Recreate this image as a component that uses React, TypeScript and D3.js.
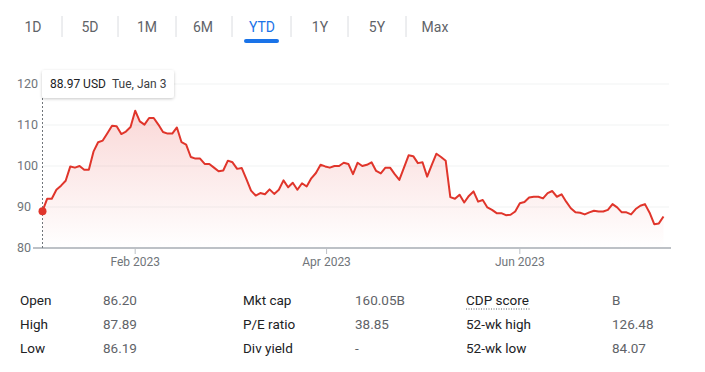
import React from "react";
import * as d3 from "d3";

const tabs = ["1D", "5D", "1M", "6M", "YTD", "1Y", "5Y", "Max"];
const selectedTab = "YTD";

const prices = [
  88.97, 92.0, 92.0, 94.2, 95.2, 96.4, 99.9, 99.6, 100.0, 99.1, 99.1, 103.5, 105.8, 106.2, 108.0,
  109.8, 109.7, 107.8, 108.4, 109.5, 113.5, 110.9, 110.1, 111.7, 111.7, 110.1, 108.3, 107.9, 107.9,
  109.4, 105.8, 105.2, 102.2, 101.8, 101.8, 100.5, 100.5, 99.6, 98.7, 98.9, 101.3, 100.9, 99.3, 99.5,
  96.8, 94.0, 92.8, 93.4, 93.1, 94.3, 93.2, 94.2, 96.5, 94.8, 95.9, 94.2, 95.8, 95.0, 97.0, 98.3,
  100.3, 99.9, 99.6, 100.0, 100.0, 100.8, 100.5, 98.0, 100.8, 100.0, 100.3, 100.9, 98.8, 98.2, 99.6,
  99.6, 98.0, 96.6, 99.6, 102.6, 102.4, 100.7, 100.9, 97.4, 100.3, 103.0, 102.2, 101.3, 92.4, 92.0,
  93.0, 91.1, 92.7, 93.8, 91.3, 91.7, 89.9, 89.3, 88.5, 88.5, 88.0, 88.1, 88.9, 90.9, 91.2, 92.3,
  92.5, 92.5, 92.1, 93.4, 93.9, 92.5, 93.1, 91.3, 89.7, 88.7, 88.6, 88.2, 88.7, 89.1, 88.9, 88.9,
  89.3, 90.7, 89.9, 88.7, 88.7, 88.2, 89.5, 90.3, 90.7, 88.6, 85.8, 86.0, 87.7,
];

const yTicks = [80, 90, 100, 110, 120];
const xTickIndex = [20, 61.3, 103];
const xTickLabels = ["Feb 2023", "Apr 2023", "Jun 2023"];

const tooltipPrice = "88.97 USD";
const tooltipDate = "Tue, Jan 3";

const statLabels = [
  ["Open", "High", "Low"],
  ["Mkt cap", "P/E ratio", "Div yield"],
  ["CDP score", "52-wk high", "52-wk low"],
];
const statValues = [
  ["86.20", "87.89", "86.19"],
  ["160.05B", "38.85", "-"],
  ["B", "126.48", "84.07"],
];

const FONT = "Roboto, Arial, sans-serif";

export default function App() {
  const W = 705;
  const H = 372;
  const x = d3.scaleLinear().domain([0, prices.length - 1]).range([42.5, 663.5]);
  const y = d3.scaleLinear().domain([80, 120]).range([248, 84]);

  const line = d3
    .line<number>()
    .x((_, i) => x(i))
    .y((d) => y(d));
  const area = d3
    .area<number>()
    .x((_, i) => x(i))
    .y0(y(80))
    .y1((d) => y(d));

  const tabX = [33, 90, 147, 203, 262, 320, 377, 435];
  const sepX = [62, 118, 176, 232, 291, 348, 406];
  const labelColX = [20, 243, 466];
  const valueColX = [103, 355, 612];
  const rowY = [305, 329, 353];

  return (
    <svg
      width={W}
      height={H}
      style={{ position: "absolute", left: 0, top: 0, background: "#fff" }}
      fontFamily={FONT}
    >
      <defs>
        <linearGradient id="fillGrad" x1="0" y1={y(114)} x2="0" y2={y(80)} gradientUnits="userSpaceOnUse">
          <stop offset="0%" stopColor="#e53935" stopOpacity={0.2} />
          <stop offset="100%" stopColor="#e53935" stopOpacity={0.0} />
        </linearGradient>
        <filter id="shadow" x="-20%" y="-40%" width="140%" height="180%">
          <feDropShadow dx="0" dy="1" stdDeviation="1.5" floodColor="#000" floodOpacity="0.22" />
        </filter>
      </defs>

      {/* tabs */}
      {tabs.map((t, i) => (
        <text
          key={t}
          x={tabX[i]}
          y={32}
          textAnchor="middle"
          fontSize={14}
          fill={t === selectedTab ? "#1a73e8" : "#5f6368"}
        >
          {t}
        </text>
      ))}
      {sepX.map((sx, i) => (
        <line key={i} x1={sx} x2={sx} y1={16} y2={37} stroke="#dadce0" strokeWidth={1} />
      ))}
      <rect x={244} y={39} width={35} height={4} rx={2} fill="#1a73e8" />

      {/* gridlines */}
      {yTicks.slice(1).map((t) => (
        <line key={t} x1={42} x2={669} y1={y(t)} y2={y(t)} stroke="#f1f3f4" strokeWidth={1.2} />
      ))}
      {yTicks.map((t) => (
        <text key={t} x={17} y={y(t)} dy="0.35em" fontSize={12.5} fill="#70757a">
          {t}
        </text>
      ))}

      {/* area + line */}
      <path d={area(prices) || ""} fill="url(#fillGrad)" />
      <path d={line(prices) || ""} fill="none" stroke="#e0352b" strokeWidth={2} strokeLinejoin="round" />

      {/* axis */}
      <line x1={33} x2={671} y1={y(80)} y2={y(80)} stroke="#bdc1c6" strokeWidth={2} />
      {xTickIndex.map((ti, i) => (
        <g key={i}>
          <line x1={x(ti)} x2={x(ti)} y1={y(80)} y2={y(80) + 6} stroke="#bdc1c6" strokeWidth={1} />
          <text x={x(ti)} y={266} textAnchor="middle" fontSize={12} fill="#70757a">
            {xTickLabels[i]}
          </text>
        </g>
      ))}

      {/* hover marker */}
      <line
        x1={x(0)}
        x2={x(0)}
        y1={98}
        y2={y(80)}
        stroke="#70757a"
        strokeWidth={1}
        strokeDasharray="2,2"
      />
      <circle cx={x(0)} cy={y(prices[0])} r={4} fill="#e0352b" />
      <rect x={42} y={70} width={132} height={28} rx={3} fill="#fff" filter="url(#shadow)" />
      <text x={50} y={88} fontSize={12} fill="#202124">
        {tooltipPrice}
      </text>
      <text x={112} y={88} fontSize={12} fill="#3c4043">
        {tooltipDate}
      </text>

      {/* stats table */}
      {statLabels.map((col, c) =>
        col.map((lab, r) => (
          <g key={`${c}-${r}`}>
            <text x={labelColX[c]} y={rowY[r]} fontSize={13.5} fill="#202124">
              {lab}
            </text>
            <text x={valueColX[c]} y={rowY[r]} fontSize={13.5} fill="#5f6368">
              {statValues[c][r]}
            </text>
          </g>
        ))
      )}
      <line
        x1={466}
        x2={530}
        y1={309}
        y2={309}
        stroke="#5f6368"
        strokeWidth={1}
        strokeDasharray="1,1.5"
      />
    </svg>
  );
}
